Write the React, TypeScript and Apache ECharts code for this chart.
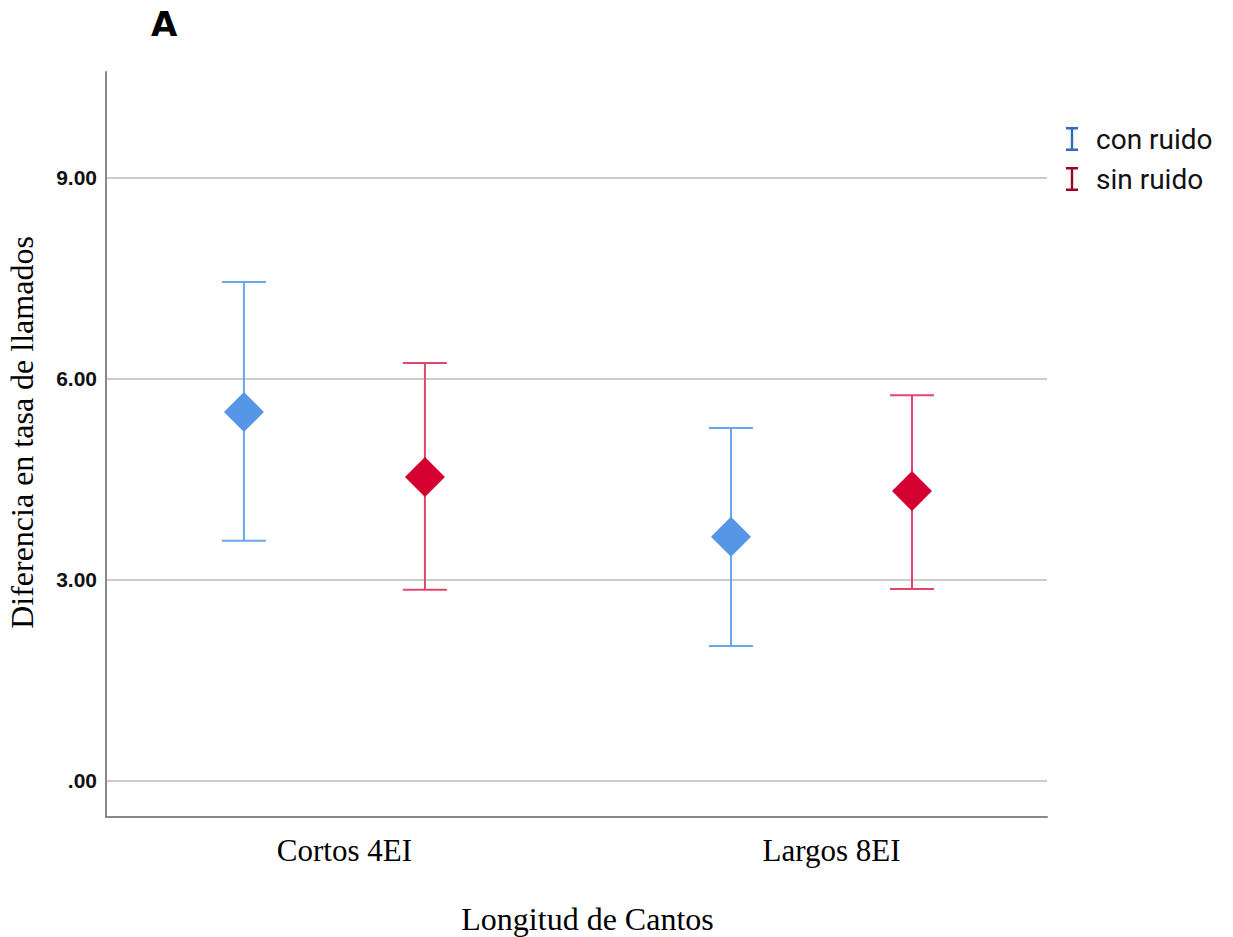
import React, { useEffect, useRef } from 'react';
import * as echarts from 'echarts';

const categories = ['Cortos 4EI', 'Largos 8EI'];
const seriesNames = ['con ruido', 'sin ruido'];
const conRuidoMean = [5.5, 3.64];
const conRuidoLow = [3.58, 2.01];
const conRuidoHigh = [7.44, 5.26];
const sinRuidoMean = [4.53, 4.32];
const sinRuidoLow = [2.85, 2.86];
const sinRuidoHigh = [6.23, 5.75];
const yTicks = [0, 3, 6, 9];
const xTicks = [0, 1];

const BLUE_FILL = '#5596e6';
const BLUE_LINE = '#6aa6ec';
const RED_FILL = '#d4002f';
const RED_LINE = '#e2456c';
const BLUE_LEG = '#2f6cb3';
const RED_LEG = '#a0001f';
const OFFSET = 90.5;
const CAP = 22;

const IBEAM = 'path://M0,0H12V2.6H7.2V21.4H12V24H0V21.4H4.8V2.6H0Z';

function errorSeries(name: string, low: number[], high: number[], color: string, offset: number) {
  return {
    type: 'custom',
    name,
    data: categories.map((_, i) => [i, low[i], high[i]]),
    encode: { x: 0, y: [1, 2] },
    z: 2,
    renderItem: (params: any, api: any) => {
      const x = api.value(0);
      const lo = api.coord([x, api.value(1)]);
      const hi = api.coord([x, api.value(2)]);
      const cx = lo[0] + offset;
      const style = { stroke: color, lineWidth: 2, fill: null };
      return {
        type: 'group',
        children: [
          { type: 'line', shape: { x1: cx, y1: hi[1], x2: cx, y2: lo[1] }, style },
          { type: 'line', shape: { x1: cx - CAP, y1: hi[1], x2: cx + CAP, y2: hi[1] }, style },
          { type: 'line', shape: { x1: cx - CAP, y1: lo[1], x2: cx + CAP, y2: lo[1] }, style },
        ],
      };
    },
  };
}

function meanSeries(name: string, mean: number[], color: string, offset: number) {
  return {
    type: 'scatter',
    name,
    data: categories.map((_, i) => [i, mean[i]]),
    symbol: 'diamond',
    symbolSize: 40,
    symbolOffset: [offset, 0],
    itemStyle: { color, opacity: 1 },
    z: 3,
  };
}

export default function App() {
  const ref = useRef<HTMLDivElement>(null);
  useEffect(() => {
    if (!ref.current) return;
    const chart = echarts.init(ref.current, null, { renderer: 'svg' });
    chart.setOption({
      animation: false,
      backgroundColor: '#ffffff',
      title: {
        text: 'A',
        left: 151,
        top: 7,
        padding: 0,
        textStyle: { fontFamily: 'DejaVu Sans', fontWeight: 900, fontSize: 34, color: '#000' },
      },
      legend: {
        orient: 'vertical',
        left: 1066,
        top: 125,
        itemWidth: 12,
        itemHeight: 24,
        itemGap: 12,
        padding: 0,
        selectedMode: false,
        textStyle: { fontFamily: 'Roboto', fontSize: 28, color: '#111', padding: [0, 0, 0, 13] },
        data: [
          { name: seriesNames[0], icon: IBEAM, itemStyle: { color: BLUE_LEG } },
          { name: seriesNames[1], icon: IBEAM, itemStyle: { color: RED_LEG } },
        ],
      },
      grid: { left: 106, right: 186, top: 72, bottom: 120, containLabel: false, outerBoundsMode: 'none' },
      xAxis: {
        type: 'value',
        min: -0.469,
        max: 1.463,
        axisLine: { show: true, onZero: false, lineStyle: { color: '#888', width: 2 } },
        axisTick: { show: false, customValues: xTicks },
        splitLine: { show: false },
        axisLabel: {
          customValues: xTicks,
          formatter: (v: number) => categories[Math.round(v)] ?? '',
          fontFamily: 'Liberation Serif',
          fontSize: 31,
          color: '#000',
          margin: 18,
          padding: [0, 0, 0, 20],
        },
        name: 'Longitud de Cantos',
        nameLocation: 'middle',
        nameGap: 86,
        nameTextStyle: { fontFamily: 'Liberation Serif', fontSize: 32, color: '#000', padding: [0, 0, 0, 22] },
      },
      yAxis: {
        type: 'value',
        min: -0.54,
        max: 10.57,
        axisLine: { show: true, onZero: false, lineStyle: { color: '#888', width: 2 } },
        axisTick: { show: false, customValues: yTicks },
        axisLabel: {
          customValues: yTicks,
          formatter: (v: number) => (v === 0 ? '.00' : v.toFixed(2)),
          fontFamily: 'Liberation Sans',
          fontWeight: 'bold',
          fontSize: 21,
          color: '#111',
          margin: 9,
        },
        splitLine: { show: true, lineStyle: { color: '#bbbbbb', width: 1.5 } },
        name: 'Diferencia en tasa de llamados',
        nameLocation: 'middle',
        nameGap: 68,
        nameTextStyle: { fontFamily: 'Liberation Serif', fontSize: 32, color: '#000', padding: [0, 0, 0, 24] },
      },
      series: [
        errorSeries(seriesNames[0], conRuidoLow, conRuidoHigh, BLUE_LINE, -OFFSET),
        errorSeries(seriesNames[1], sinRuidoLow, sinRuidoHigh, RED_LINE, OFFSET),
        meanSeries(seriesNames[0], conRuidoMean, BLUE_FILL, -OFFSET),
        meanSeries(seriesNames[1], sinRuidoMean, RED_FILL, OFFSET),
      ],
    });
    return () => chart.dispose();
  }, []);
  return (
    <div
      ref={ref}
      style={{ position: 'fixed', left: 0, top: 0, width: 1233, height: 937, background: '#fff' }}
    />
  );
}
